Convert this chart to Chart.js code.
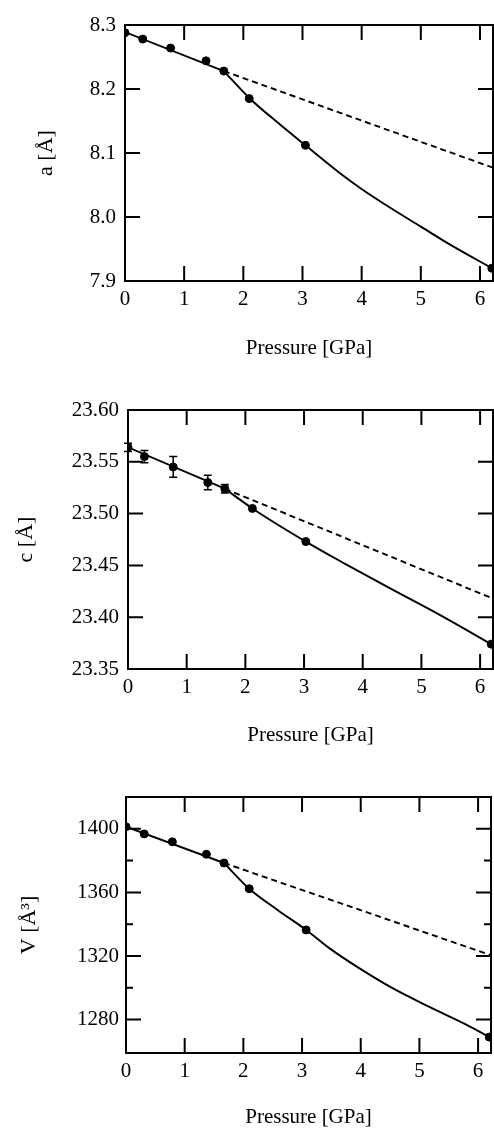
<!DOCTYPE html>
<html>
<head>
<meta charset="utf-8">
<script src="https://cdn.jsdelivr.net/npm/chart.js@4"></script>
<style>
body{margin:0;background:#fff;width:494px;height:1130px;position:relative;overflow:hidden}
canvas{position:absolute;left:0}
</style>
</head>
<body>
<canvas id="chartA" width="494" height="370" style="top:0"></canvas>
<canvas id="chartC" width="494" height="375" style="top:380px"></canvas>
<canvas id="chartV" width="494" height="370" style="top:760px"></canvas>
<script>
// pressure axis
const xTicks = [0, 1, 2, 3, 4, 5, 6];
const xMax = 6.22;

// lattice parameter a
const aP   = [0, 0.30, 0.77, 1.37, 1.67, 2.10, 3.05, 6.20];
const aVal = [8.288, 8.278, 8.264, 8.244, 8.228, 8.185, 8.112, 7.920];
const aFitP = [0, 1.67, 2.10, 2.60, 3.05, 3.64, 3.98, 4.49, 5.00, 5.51, 6.22];
const aFit  = [8.289, 8.228, 8.186, 8.146, 8.112, 8.068, 8.045, 8.014, 7.985, 7.956, 7.919];
const aLinP = [1.67, 6.22];
const aLin  = [8.228, 8.077];
const aTicks = [7.9, 8.0, 8.1, 8.2, 8.3];

// lattice parameter c
const cP   = [0, 0.28, 0.77, 1.36, 1.65, 2.12, 3.03, 6.19];
const cVal = [23.564, 23.555, 23.545, 23.530, 23.524, 23.505, 23.473, 23.374];
const cErr = [0.004, 0.006, 0.010, 0.007, 0.004, 0, 0, 0];
const cFitP = [0, 1.65, 2.12, 3.03, 3.70, 4.46, 5.32, 6.22];
const cFit  = [23.564, 23.524, 23.505, 23.473, 23.4515, 23.428, 23.402, 23.373];
const cLinP = [1.65, 6.22];
const cLin  = [23.524, 23.418];
const cTicks = [23.35, 23.40, 23.45, 23.50, 23.55, 23.60];

// volume V
const vP   = [0, 0.31, 0.79, 1.37, 1.67, 2.10, 3.07, 6.19];
const vVal = [1401.3, 1396.8, 1391.8, 1384.0, 1378.5, 1362.3, 1336.4, 1269.0];
const vFitP = [0, 1.67, 2.10, 2.60, 3.07, 3.47, 3.98, 4.55, 5.17, 5.79, 6.22];
const vFit  = [1401.3, 1378.5, 1362.3, 1348.5, 1336.4, 1324.8, 1312.2, 1299.6, 1288.0, 1277.0, 1268.5];
const vLinP = [1.67, 6.22];
const vLin  = [1378.5, 1320.5];
const vTicks = [1280, 1300, 1320, 1340, 1360, 1380, 1400];
const vLabeled = [1280, 1320, 1360, 1400];

const serif = 'Liberation Serif';

function pairs(xs, ys) {
  return xs.map((x, i) => ({x: x, y: ys[i]}));
}

// frame + inward ticks on all four sides, error bars
const framePlugin = {
  id: 'frame',
  afterDatasetsDraw(chart, args, opts) {
    if (!opts.err) return;
    const ctx = chart.ctx, xs = chart.scales.x, ys = chart.scales.y;
    ctx.save();
    ctx.strokeStyle = '#000';
    ctx.lineWidth = 1.5;
    opts.errX.forEach((p, i) => {
      const e = opts.err[i];
      if (!e) return;
      const px = xs.getPixelForValue(p);
      const y1 = ys.getPixelForValue(opts.errY[i] + e);
      const y2 = ys.getPixelForValue(opts.errY[i] - e);
      ctx.beginPath();
      ctx.moveTo(px, y1); ctx.lineTo(px, y2);
      ctx.moveTo(px - 4, y1); ctx.lineTo(px + 4, y1);
      ctx.moveTo(px - 4, y2); ctx.lineTo(px + 4, y2);
      ctx.stroke();
    });
    ctx.restore();
  },
  afterDraw(chart, args, opts) {
    const ctx = chart.ctx, a = chart.chartArea;
    const xs = chart.scales.x, ys = chart.scales.y;
    ctx.save();
    ctx.strokeStyle = '#000';
    ctx.lineWidth = 2;
    ctx.strokeRect(a.left, a.top, a.right - a.left, a.bottom - a.top);
    ctx.beginPath();
    xTicks.forEach(v => {
      if (v <= xs.min || v >= xs.max) return;
      const px = xs.getPixelForValue(v);
      ctx.moveTo(px, a.bottom); ctx.lineTo(px, a.bottom - 15);
      ctx.moveTo(px, a.top); ctx.lineTo(px, a.top + 15);
    });
    opts.yTicks.forEach(v => {
      if (v <= ys.min + 1e-9 || v >= ys.max - 1e-9) return;
      const len = opts.yMinor.includes(v) ? 7 : 15;
      const py = ys.getPixelForValue(v);
      ctx.moveTo(a.left, py); ctx.lineTo(a.left + len, py);
      ctx.moveTo(a.right, py); ctx.lineTo(a.right - len, py);
    });
    ctx.stroke();
    ctx.restore();
  }
};

function makePanel(id, o) {
  // fit curve: straight below the transition (index 1), smooth above
  const low = pairs(o.fitP.slice(0, 2), o.fit.slice(0, 2));
  const high = pairs(o.fitP.slice(1), o.fit.slice(1));
  new Chart(document.getElementById(id), {
    type: 'scatter',
    data: {
      datasets: [
        { data: pairs(o.p, o.val), pointRadius: 4, pointBackgroundColor: '#000', pointBorderColor: '#000', showLine: false },
        { data: low, showLine: true, pointRadius: 0, borderColor: '#000', borderWidth: 1.9, tension: 0 },
        { data: high, showLine: true, pointRadius: 0, borderColor: '#000', borderWidth: 1.9, cubicInterpolationMode: 'monotone' },
        { data: pairs(o.linP, o.lin), showLine: true, pointRadius: 0, borderColor: '#000', borderWidth: 1.9, borderDash: [6, 4] }
      ]
    },
    options: {
      responsive: false,
      animation: false,
      layout: { autoPadding: false, padding: { top: o.top, right: o.right, left: 0, bottom: 0 } },
      plugins: {
        legend: { display: false },
        tooltip: { enabled: false },
        frame: { yTicks: o.yTicks, yMinor: o.yMinor || [], err: o.err, errX: o.p, errY: o.val }
      },
      scales: {
        x: {
          type: 'linear', min: 0, max: xMax,
          afterBuildTicks: s => { s.ticks = xTicks.map(v => ({value: v})); },
          afterFit: s => { s.height = o.xh; s.paddingLeft = 0; s.paddingRight = 0; },
          grid: { display: false, drawTicks: false },
          border: { display: false },
          ticks: { color: '#000', font: { family: serif, size: 21 }, padding: 6, maxRotation: 0, autoSkip: false },
          title: { display: true, text: 'Pressure [GPa]', color: '#000', font: { family: serif, size: 21 }, padding: { top: 0, bottom: o.titlePad } }
        },
        y: {
          type: 'linear', min: o.yMin, max: o.yMax,
          afterBuildTicks: s => { s.ticks = o.yTicks.map(v => ({value: v})); },
          afterFit: s => { s.width = o.left; s.paddingTop = 0; s.paddingBottom = 0; },
          grid: { display: false, drawTicks: false },
          border: { display: false },
          ticks: { color: '#000', font: { family: serif, size: 21 }, padding: o.tickPad, autoSkip: false, callback: o.fmt },
          title: { display: true, text: o.yTitle, color: '#000', font: { family: serif, size: 22 }, padding: { top: o.yTitlePad, bottom: 0 } }
        }
      }
    },
    plugins: [framePlugin]
  });
}

makePanel('chartA', {
  p: aP, val: aVal, fitP: aFitP, fit: aFit, linP: aLinP, lin: aLin,
  yTicks: aTicks, yMin: 7.9, yMax: 8.3, fmt: v => v.toFixed(1),
  yTitle: 'a [Å]', top: 25, right: 1, left: 125, xh: 89, titlePad: 9, tickPad: 9, yTitlePad: 33
});

makePanel('chartC', {
  p: cP, val: cVal, err: cErr, fitP: cFitP, fit: cFit, linP: cLinP, lin: cLin,
  yTicks: cTicks, yMin: 23.35, yMax: 23.60, fmt: v => v.toFixed(2),
  yTitle: 'c [Å]', top: 30, right: 1, left: 128, xh: 86, titlePad: 7, tickPad: 9, yTitlePad: 13
});

makePanel('chartV', {
  p: vP, val: vVal, fitP: vFitP, fit: vFit, linP: vLinP, lin: vLin,
  yTicks: vTicks, yMinor: [1300, 1340, 1380], yMin: 1259, yMax: 1420,
  fmt: v => vLabeled.includes(v) ? String(v) : '',
  yTitle: 'V [Å³]', top: 37, right: 3, left: 126, xh: 77, titlePad: 0, tickPad: 7, yTitlePad: 16
});
</script>
</body>
</html>
